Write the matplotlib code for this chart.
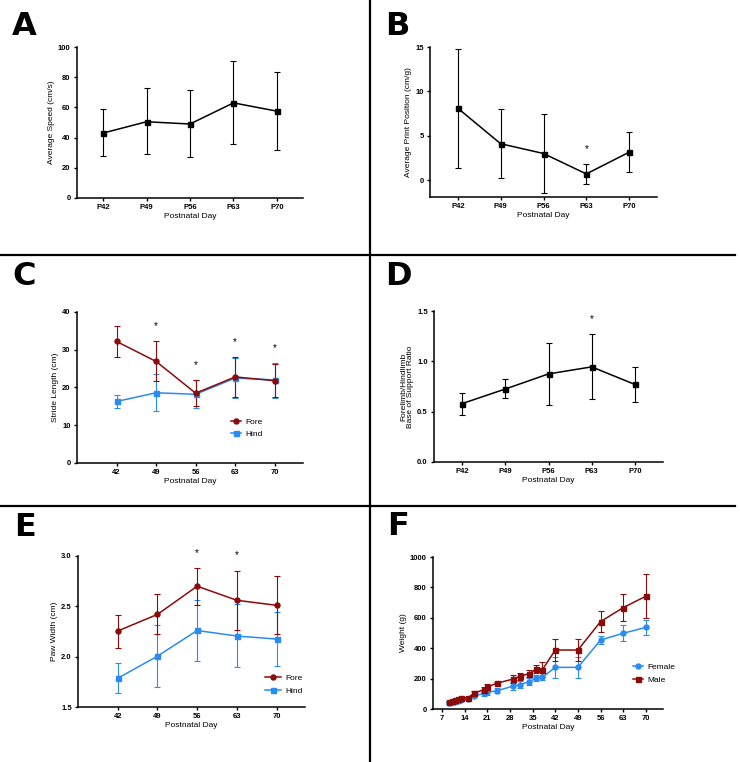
import matplotlib.pyplot as plt
from matplotlib.lines import Line2D
import numpy as np

plt.rcParams['font.family'] = ['Liberation Sans', 'DejaVu Sans']

RED = '#8b0a0a'
BLUE = '#2a8cf0'

# Panel A - average speed
days_p = ['P42', 'P49', 'P56', 'P63', 'P70']
speed_mean = [43, 50.5, 49, 63, 57.5]
speed_hi = [59, 73, 71.5, 90.5, 83.5]
speed_lo = [27.5, 29, 27, 36, 32]

# Panel B - print position
print_mean = [8.1, 4.1, 3.0, 0.7, 3.15]
print_hi = [14.8, 8.0, 7.4, 1.85, 5.45]
print_lo = [1.4, 0.25, -1.4, -0.45, 0.95]
print_stars = ['P63']

# Panel C - stride length
days_n = [42, 49, 56, 63, 70]
stride_fore = [32.2, 26.9, 18.5, 22.8, 21.8]
stride_fore_hi = [36.3, 32.2, 22.0, 28.0, 26.2]
stride_fore_lo = [28.2, 21.8, 15.0, 17.5, 17.5]
stride_hind = [16.3, 18.6, 18.2, 22.5, 22.0]
stride_hind_hi = [18.0, 23.5, 22.0, 27.8, 26.4]
stride_hind_lo = [14.5, 13.7, 14.5, 17.3, 17.3]
stride_stars = [49, 56, 63, 70]

# Panel D - base of support ratio
bos_mean = [0.58, 0.725, 0.875, 0.945, 0.77]
bos_hi = [0.69, 0.82, 1.18, 1.27, 0.94]
bos_lo = [0.465, 0.635, 0.57, 0.625, 0.60]
bos_stars = ['P63']

# Panel E - paw width
paw_fore = [2.255, 2.42, 2.70, 2.56, 2.51]
paw_fore_hi = [2.415, 2.62, 2.88, 2.855, 2.80]
paw_fore_lo = [2.09, 2.225, 2.515, 2.265, 2.225]
paw_hind = [1.785, 2.005, 2.26, 2.205, 2.175]
paw_hind_hi = [1.94, 2.31, 2.565, 2.52, 2.44]
paw_hind_lo = [1.635, 1.70, 1.955, 1.895, 1.91]
paw_stars = [56, 63]

# Panel F - weight
wt_days = [9, 10, 11, 12, 13, 15, 17, 20, 21, 24, 29, 31, 34, 36, 38, 42, 49, 56, 63, 70]
wt_female = [38, 43, 48, 53, 58, 64, 86, 103, 110, 120, 151, 160, 180, 202, 208, 274, 274, 454, 498, 537]
wt_female_err = [5, 5, 5, 5, 6, 6, 8, 15, 15, 18, 25, 25, 22, 20, 18, 70, 70, 25, 52, 50]
wt_male = [48, 55, 60, 65, 70, 74, 105, 128, 145, 170, 197, 215, 233, 262, 258, 388, 388, 575, 667, 742]
wt_male_err = [5, 5, 6, 6, 6, 6, 12, 15, 20, 8, 25, 25, 25, 25, 50, 72, 72, 67, 88, 146]

fig = plt.figure(figsize=(7.4, 7.62), dpi=100)
W, H = 740, 762
LABEL_FS = 6.0


def make_ax(left, right, top, bottom):
    ax = fig.add_axes([left / W, 1 - bottom / H, (right - left) / W, (bottom - top) / H])
    for s in ['top', 'right']:
        ax.spines[s].set_visible(False)
    for s in ['left', 'bottom']:
        ax.spines[s].set_linewidth(1.1)
    ax.tick_params(width=1.0, length=2.5, labelsize=5.5, pad=2)
    ax.set_xlabel('Postnatal Day', fontsize=LABEL_FS, labelpad=1)
    return ax


def err(mean, hi, lo):
    mean, hi, lo = np.array(mean), np.array(hi), np.array(lo)
    return [mean - lo, hi - mean]


def plot_series(ax, x, mean, yerr, color, marker):
    ax.errorbar(x, mean, yerr=yerr, color=color, marker=marker, ms=3.6, lw=1.1,
                elinewidth=0.8, capsize=2.2, capthick=0.8)


def stars(ax, xs, x_all, his, yrange):
    for xv in xs:
        i = list(x_all).index(xv)
        top = max(h[i] for h in his)
        ax.text(xv if not isinstance(xv, str) else i, top + 0.1 * yrange, '*',
                ha='center', va='center', fontsize=7, clip_on=False)


def legend(ax, entries, x, y, hl):
    handles = [Line2D([], [], color=c, marker=m, ms=3.6, lw=1.1) for c, m, _ in entries]
    ax.legend(handles, [t for _, _, t in entries], loc='center left', bbox_to_anchor=(x, y),
              frameon=False, fontsize=LABEL_FS, handlelength=hl, handletextpad=0.5,
              labelspacing=0.55, borderpad=0, borderaxespad=0)


def bold_ticks(ax):
    for lab in ax.get_xticklabels() + ax.get_yticklabels():
        lab.set_fontweight('bold')


# A
ax = make_ax(77, 303, 47, 198)
xi = np.arange(len(days_p))
plot_series(ax, xi, speed_mean, err(speed_mean, speed_hi, speed_lo), 'black', 's')
ax.set_xlim(-0.6, 4.6)
ax.set_ylim(0, 100)
ax.set_xticks(xi, days_p)
ax.set_yticks(np.arange(0, 101, 20))
ax.set_ylabel('Average Speed (cm/s)', fontsize=LABEL_FS, labelpad=2)
bold_ticks(ax)

# B
ax = make_ax(430, 657, 47, 197)
plot_series(ax, xi, print_mean, err(print_mean, print_hi, print_lo), 'black', 's')
ax.set_xlim(-0.65, 4.65)
ax.set_ylim(-1.9, 15)
ax.set_xticks(xi, days_p)
ax.set_yticks([0, 5, 10, 15])
ax.set_ylabel('Average Print Position (cm/g)', fontsize=LABEL_FS, labelpad=2)
stars(ax, print_stars, days_p, [print_hi], 16.9)
bold_ticks(ax)

# C
ax = make_ax(77, 303, 312, 463)
plot_series(ax, days_n, stride_hind, err(stride_hind, stride_hind_hi, stride_hind_lo), BLUE, 's')
plot_series(ax, days_n, stride_fore, err(stride_fore, stride_fore_hi, stride_fore_lo), RED, 'o')
ax.set_xlim(35, 75)
ax.set_ylim(0, 40)
ax.set_xticks(days_n)
ax.set_yticks(np.arange(0, 41, 10))
ax.set_ylabel('Stride Length (cm)', fontsize=LABEL_FS, labelpad=2)
stars(ax, stride_stars, days_n, [stride_fore_hi, stride_hind_hi], 40)
legend(ax, [(RED, 'o', 'Fore'), (BLUE, 's', 'Hind')], 0.681, 0.232, 1.2)
bold_ticks(ax)

# D
ax = make_ax(434, 663, 311, 462)
plot_series(ax, xi, bos_mean, err(bos_mean, bos_hi, bos_lo), 'black', 's')
ax.set_xlim(-0.65, 4.65)
ax.set_ylim(0, 1.5)
ax.set_xticks(xi, days_p)
ax.set_yticks([0, 0.5, 1.0, 1.5], ['0.0', '0.5', '1.0', '1.5'])
ax.set_ylabel('Forelimb/Hindlimb\nBase of Support Ratio', fontsize=LABEL_FS, labelpad=2, linespacing=1.0)
stars(ax, bos_stars, days_p, [bos_hi], 1.5)
bold_ticks(ax)

# E
ax = make_ax(78, 305, 556, 707)
plot_series(ax, days_n, paw_hind, err(paw_hind, paw_hind_hi, paw_hind_lo), BLUE, 's')
plot_series(ax, days_n, paw_fore, err(paw_fore, paw_fore_hi, paw_fore_lo), RED, 'o')
ax.set_xlim(35, 75)
ax.set_ylim(1.5, 3.0)
ax.set_xticks(days_n)
ax.set_yticks([1.5, 2.0, 2.5, 3.0], ['1.5', '2.0', '2.5', '3.0'])
ax.set_ylabel('Paw Width (cm)', fontsize=LABEL_FS, labelpad=2)
stars(ax, paw_stars, days_n, [paw_fore_hi, paw_hind_hi], 1.5)
legend(ax, [(RED, 'o', 'Fore'), (BLUE, 's', 'Hind')], 0.824, 0.149, 1.9)
bold_ticks(ax)

# F
ax = make_ax(433, 663, 557, 709)
plot_series(ax, wt_days, wt_female, wt_female_err, BLUE, 'o')
plot_series(ax, wt_days, wt_male, wt_male_err, RED, 's')
ax.set_xlim(4.2, 75.3)
ax.set_ylim(0, 1000)
ax.set_xticks(np.arange(7, 71, 7))
ax.set_yticks(np.arange(0, 1001, 200))
ax.set_ylabel('Weight (g)', fontsize=LABEL_FS, labelpad=2)
legend(ax, [(BLUE, 'o', 'Female'), (RED, 's', 'Male')], 0.87, 0.234, 1.2)
bold_ticks(ax)

# panel letters
for letter, x, y in [('A', 12, 35), ('B', 385, 35), ('C', 12, 285),
                     ('D', 385, 285), ('E', 14, 536), ('F', 387, 535)]:
    fig.text(x / W, 1 - y / H, letter, fontsize=23, fontweight='heavy',
             family='DejaVu Sans', va='baseline', ha='left')

# divider lines
fig.add_artist(Line2D([369.5 / W] * 2, [0, 1], transform=fig.transFigure, color='black', lw=1.6))
for y in [255.5, 505.5]:
    fig.add_artist(Line2D([0, 735 / W], [1 - y / H] * 2, transform=fig.transFigure, color='black', lw=1.6))

fig.savefig('out.png', dpi=100, facecolor='white')
